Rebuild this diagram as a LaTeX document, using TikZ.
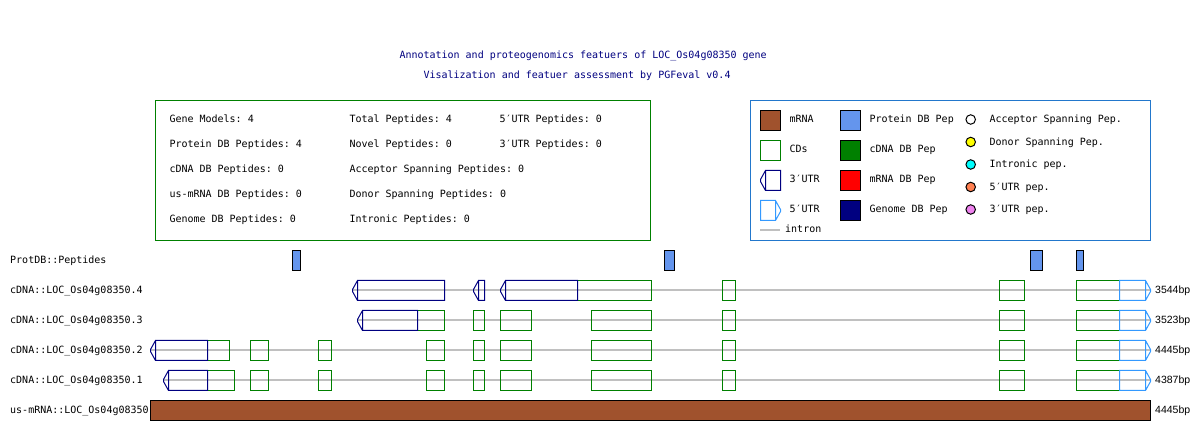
\documentclass[tikz,border=0pt]{standalone}
\usepackage{fontspec}
\setmonofont{DejaVu Sans Mono}
\newfontfamily\bpfont{Liberation Sans}

\definecolor{mrnabrown}{HTML}{A0522D}
\definecolor{pepblue}{HTML}{6495ED}
\definecolor{cdsgreen}{HTML}{008000}
\definecolor{utrnavy}{HTML}{000080}
\definecolor{utrlight}{HTML}{3399FF}
\definecolor{introngray}{HTML}{C0C0C0}
\definecolor{legendblue}{HTML}{2277CC}
\definecolor{mrnared}{HTML}{FF0000}
\definecolor{pepyellow}{HTML}{FFFF00}
\definecolor{pepcyan}{HTML}{00FFFF}
\definecolor{peporange}{HTML}{FF7F50}
\definecolor{pepviolet}{HTML}{EE82EE}

% track shapes: coordinates in pixels, y grows downwards
\newcommand\intronrow[3]{\draw[intronline] (#1,#3) -- (#2,#3);}
\newcommand\cdsbox[3]{\draw[cdsline] (#1,#3-10) rectangle (#2,#3+10);}
% 3'UTR: tip, box left, box right, row centre
\newcommand\threeutr[4]{\draw[utrthreeline] (#2,#4-10) -- (#1,#4-1) -- (#1,#4+1) -- (#2,#4+10) -- (#3,#4+10) -- (#3,#4-10) -- cycle (#2,#4-10) -- (#2,#4+10);}
% 5'UTR: box left, box right, tip, row centre
\newcommand\fiveutr[4]{\draw[utrfiveline] (#2,#4-10) -- (#3,#4-1) -- (#3,#4+1) -- (#2,#4+10) -- (#1,#4+10) -- (#1,#4-10) -- cycle (#2,#4-10) -- (#2,#4+10);}
% exons shared by every cDNA model
\newcommand\sharedexons[1]{%
  \cdsbox{500.5}{531.5}{#1}\cdsbox{591}{651.5}{#1}\cdsbox{722.5}{735.5}{#1}%
  \cdsbox{999.5}{1024.5}{#1}\cdsbox{1076.5}{1119.5}{#1}%
  \fiveutr{1119.5}{1145.5}{1150.5}{#1}}

\tikzset{
  txt/.style={font=\ttfamily\fontsize{10}{12}\selectfont, inner sep=0pt, anchor=base west},
  heading/.style={txt, text=utrnavy},
  bplabel/.style={font=\bpfont\fontsize{10.5}{12}\selectfont, inner sep=0pt, anchor=base west},
  cdsline/.style={draw=cdsgreen, line width=1pt},
  utrthreeline/.style={draw=utrnavy, line width=1pt},
  utrfiveline/.style={draw=utrlight, line width=1pt},
  intronline/.style={draw=introngray, line width=2pt},
  pep/.style={draw=black, fill=pepblue, line width=1pt},
  swatch/.style={draw=black, line width=1pt},
  pepdot/.style={circle, draw=black, line width=1pt, minimum size=9.5pt, inner sep=0pt},
}

\begin{document}
\begin{tikzpicture}[x=1pt,y=-1pt]
\useasboundingbox[fill=white] (0,0) rectangle (1200,430);

% headings
\node[heading] (title1) at (399.3,59) {Annotation and proteogenomics featuers of LOC\_Os04g08350 gene};
\node[heading] (title2) at (423.3,78.3) {Visalization and featuer assessment by PGFeval v0.4};

% summary box
\draw[cdsgreen, line width=1pt] (155.5,100.5) rectangle (650.5,240.5);
\node[txt] (s11) at (169.3,123) {Gene Models: 4};
\node[txt] (s21) at (169.3,148) {Protein DB Peptides: 4};
\node[txt] (s31) at (169.3,173) {cDNA DB Peptides: 0};
\node[txt] (s41) at (169.3,198) {us-mRNA DB Peptides: 0};
\node[txt] (s51) at (169.3,223) {Genome DB Peptides: 0};
\node[txt] (s12) at (349.3,123) {Total Peptides: 4};
\node[txt] (s22) at (349.3,148) {Novel Peptides: 0};
\node[txt] (s32) at (349.3,173) {Acceptor Spanning Peptides: 0};
\node[txt] (s42) at (349.3,198) {Donor Spanning Peptides: 0};
\node[txt] (s52) at (349.3,223) {Intronic Peptides: 0};
\node[txt] (s13) at (499.3,123) {5′UTR Peptides: 0};
\node[txt] (s23) at (499.3,148) {3′UTR Peptides: 0};

% legend box
\draw[legendblue, line width=1pt] (750.5,100.5) rectangle (1150.5,240.5);
\draw[swatch, fill=mrnabrown] (760.5,110.5) rectangle (780.5,130.5);
\draw[cdsline] (760.5,140.5) rectangle (780.5,160.5);
\threeutr{760.5}{765.5}{780.5}{180.5}
\fiveutr{760.5}{775.5}{780.5}{210.5}
\draw[intronline] (760,230) -- (780,230);
\node[txt] (lmrna) at (789.3,123) {mRNA};
\node[txt] (lcds) at (789.3,153) {CDs};
\node[txt] (l3utr) at (789.3,183) {3′UTR};
\node[txt] (l5utr) at (789.3,213) {5′UTR};
\node[txt] (lintron) at (785,233) {intron};

\draw[swatch, fill=pepblue] (840.5,110.5) rectangle (860.5,130.5);
\draw[swatch, fill=cdsgreen] (840.5,140.5) rectangle (860.5,160.5);
\draw[swatch, fill=mrnared] (840.5,170.5) rectangle (860.5,190.5);
\draw[swatch, fill=utrnavy] (840.5,200.5) rectangle (860.5,220.5);
\node[txt] (lprot) at (869.3,123) {Protein DB Pep};
\node[txt] (lcdna) at (869.3,153) {cDNA DB Pep};
\node[txt] (lmdb) at (869.3,183) {mRNA DB Pep};
\node[txt] (lgen) at (869.3,213) {Genome DB Pep};

\node[pepdot, fill=white] (dacc) at (970.7,119.5) {};
\node[pepdot, fill=pepyellow] (ddon) at (970.7,142) {};
\node[pepdot, fill=pepcyan] (dint) at (970.7,164.5) {};
\node[pepdot, fill=peporange] (d5) at (970.7,187) {};
\node[pepdot, fill=pepviolet] (d3) at (970.7,209.5) {};
\node[txt] (tacc) at (989.3,123) {Acceptor Spanning Pep.};
\node[txt] (tdon) at (989.3,145.5) {Donor Spanning Pep.};
\node[txt] (tint) at (989.3,168) {Intronic pep.};
\node[txt] (t5) at (989.3,190.5) {5′UTR pep.};
\node[txt] (t3) at (989.3,213) {3′UTR pep.};

% track labels
\node[txt] (rpep) at (10,263.5) {ProtDB::Peptides};
\node[txt] (r4) at (10,293.5) {cDNA::LOC\_Os04g08350.4};
\node[txt] (r3) at (10,323.5) {cDNA::LOC\_Os04g08350.3};
\node[txt] (r2) at (10,353.5) {cDNA::LOC\_Os04g08350.2};
\node[txt] (r1) at (10,383.5) {cDNA::LOC\_Os04g08350.1};
\node[txt] (rm) at (10,413.5) {us-mRNA::LOC\_Os04g08350};

% protein database peptides
\draw[pep] (292.5,250.5) rectangle (300.5,270.5);
\draw[pep] (664.5,250.5) rectangle (674.5,270.5);
\draw[pep] (1030.5,250.5) rectangle (1042.5,270.5);
\draw[pep] (1076.5,250.5) rectangle (1083.5,270.5);

% model .4
\intronrow{352.5}{1150.5}{290.5}
\cdsbox{577.5}{651.5}{290.5}
\cdsbox{722.5}{735.5}{290.5}
\cdsbox{999.5}{1024.5}{290.5}
\cdsbox{1076.5}{1119.5}{290.5}
\threeutr{352.5}{357.5}{444.5}{290.5}
\threeutr{473.5}{478.5}{484.5}{290.5}
\threeutr{500.5}{505.5}{577.5}{290.5}
\fiveutr{1119.5}{1145.5}{1150.5}{290.5}

% model .3
\intronrow{357.5}{1150.5}{320.5}
\cdsbox{417.5}{444.5}{320.5}
\cdsbox{473.5}{484.5}{320.5}
\sharedexons{320.5}
\threeutr{357.5}{362.5}{417.5}{320.5}

% model .2
\intronrow{150.5}{1150.5}{350.5}
\cdsbox{207.5}{229.5}{350.5}
\cdsbox{250.5}{268.5}{350.5}
\cdsbox{318.5}{331.5}{350.5}
\cdsbox{426.5}{444.5}{350.5}
\cdsbox{473.5}{484.5}{350.5}
\sharedexons{350.5}
\threeutr{150.5}{155.5}{207.5}{350.5}

% model .1
\intronrow{163.5}{1150.5}{380.5}
\cdsbox{207.5}{234.5}{380.5}
\cdsbox{250.5}{268.5}{380.5}
\cdsbox{318.5}{331.5}{380.5}
\cdsbox{426.5}{444.5}{380.5}
\cdsbox{473.5}{484.5}{380.5}
\sharedexons{380.5}
\threeutr{163.5}{168.5}{207.5}{380.5}

% unspliced mRNA
\draw[swatch, fill=mrnabrown] (150.5,400.5) rectangle (1150.5,420.5);

% model lengths
\node[bplabel] (bp4) at (1155,293.5) {3544bp};
\node[bplabel] (bp3) at (1155,323.5) {3523bp};
\node[bplabel] (bp2) at (1155,353.5) {4445bp};
\node[bplabel] (bp1) at (1155,383.5) {4387bp};
\node[bplabel] (bpm) at (1155,413.5) {4445bp};
\end{tikzpicture}
\end{document}
